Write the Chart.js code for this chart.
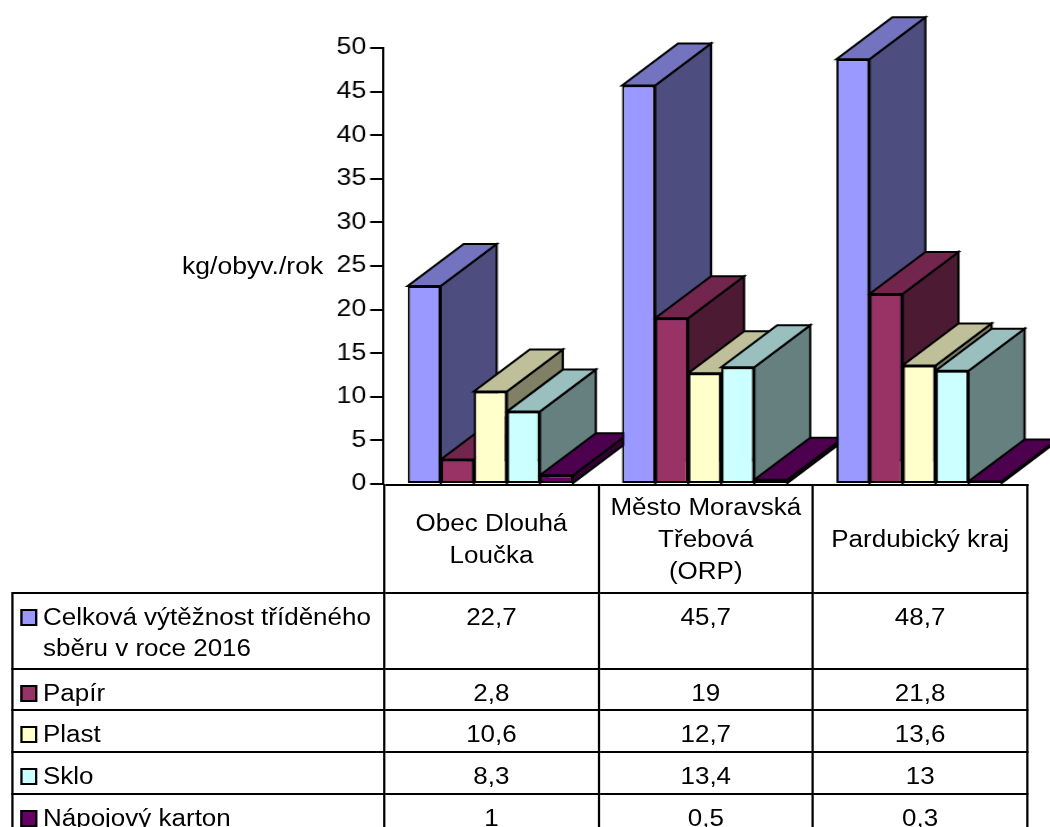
<!DOCTYPE html>
<html>
<head>
<meta charset="utf-8">
<script src="https://cdn.jsdelivr.net/npm/chart.js@4.4.1/dist/chart.umd.min.js"></script>
<style>
body { margin: 0; background: #fff; overflow: hidden; }
#wrap { position: absolute; left: 0; top: 0; width: 929px; height: 827px; overflow: visible;
  transform-origin: 0 0; transform: scaleX(1.1302);
  font-family: "Liberation Sans", Arial, sans-serif; color: #000; }
#c { position: absolute; left: 0; top: 0; width: 929px; height: 827px; }
#ytitle { position: absolute; right: 643px; top: 253px; font-size: 23.5px; line-height: 26px; white-space: nowrap; }
#tbl { position: absolute; left: 10px; top: 484px; border-collapse: collapse; table-layout: fixed; font-size: 23px; }
#tbl td { border: 2px solid #000; padding: 8px 0 0 0; text-align: center; vertical-align: top;
  line-height: 31px; white-space: nowrap; box-sizing: border-box; }
#tbl tr.head td { vertical-align: middle; padding: 0; line-height: 32px; }
#tbl td.blank { border-top: none; border-left: none; }
#tbl td.lab { position: relative; text-align: left; padding-left: 26px; }
.key { position: absolute; left: 6px; top: 15px; width: 15px; height: 17px; box-sizing: border-box; border: 2px solid #000; }
</style>
</head>
<body>
<div id="wrap">
  <canvas id="c" width="929" height="827"></canvas>
  <div id="ytitle">kg/obyv./rok</div>
  <table id="tbl"></table>
</div>
<script>
// data
var categories = [['Obec Dlouhá', 'Loučka'], ['Město Moravská', 'Třebová', '(ORP)'], ['Pardubický kraj']];
var seriesNames = [['Celková výtěžnost tříděného', 'sběru v roce 2016'], ['Papír'], ['Plast'], ['Sklo'], ['Nápojový karton']];
var celkova = [22.7, 45.7, 48.7];
var papir = [2.8, 19, 21.8];
var plast = [10.6, 12.7, 13.6];
var sklo = [8.3, 13.4, 13];
var karton = [1, 0.5, 0.3];
var yMin = 0, yMax = 50, yStep = 5;

var seriesValues = [celkova, papir, plast, sklo, karton];
var colors = ['#9999FF', '#993366', '#FFFFCC', '#CCFFFF', '#660066'];

// layout
var FONT = '"Liberation Sans", Arial, sans-serif';
var TABLE_LEFT = 10;
var rowHeights = [108, 76, 41, 42, 42, 42];
var DX = 49.5, DY = 42;   // depth of the 3d bars

function shade(hex, k) {
	var n = parseInt(hex.slice(1), 16);
	var r = Math.round(((n >> 16) & 255) * k), g = Math.round(((n >> 8) & 255) * k), b = Math.round((n & 255) * k);
	return 'rgb(' + r + ',' + g + ',' + b + ')';
}

function poly(ctx, pts, fill) {
	ctx.beginPath();
	ctx.moveTo(pts[0][0], pts[0][1]);
	for (var i = 1; i < pts.length; i++) ctx.lineTo(pts[i][0], pts[i][1]);
	ctx.closePath();
	ctx.fillStyle = fill;
	ctx.fill();
	ctx.stroke();
}

// top and side faces, left to right, before the fronts
var faces3d = {
	id: 'faces3d',
	beforeDatasetsDraw: function(chart) {
		var ctx = chart.ctx;
		ctx.save();
		ctx.lineWidth = 2;
		ctx.strokeStyle = '#000';
		ctx.lineJoin = 'miter';
		for (var j = 0; j < chart.data.labels.length; j++) {
			for (var i = 0; i < chart.data.datasets.length; i++) {
				var bar = chart.getDatasetMeta(i).data[j];
				var L = bar.x - bar.width / 2, R = bar.x + bar.width / 2, T = bar.y, B = bar.base;
				poly(ctx, [[R, T], [R + DX, T - DY], [R + DX, B - DY], [R, B]], shade(colors[i], 0.5));
				poly(ctx, [[L, T], [L + DX, T - DY], [R + DX, T - DY], [R, T]], shade(colors[i], 0.75));
			}
		}
		ctx.restore();
	}
};

var chart = new Chart(document.getElementById('c'), {
	type: 'bar',
	data: {
		labels: categories,
		datasets: seriesValues.map(function(vals, i) {
			return {
				label: seriesNames[i].join(' '),
				data: vals,
				backgroundColor: colors[i],
				borderColor: '#000',
				borderWidth: 2,
				borderSkipped: false,
				categoryPercentage: 0.771,
				barPercentage: 1
			};
		})
	},
	options: {
		responsive: false,
		animation: false,
		devicePixelRatio: 1,
		layout: { padding: { left: 0, top: 48, right: 21, bottom: 343 } },
		plugins: { legend: { display: false }, tooltip: { enabled: false } },
		scales: {
			x: { display: false },
			y: {
				min: yMin, max: yMax,
				ticks: { stepSize: yStep, color: '#000', font: { family: FONT, size: 23.5 }, padding: 3.5 },
				grid: { drawOnChartArea: false, drawTicks: true, tickLength: 11.5, color: '#000', lineWidth: 2 },
				border: { display: true, color: '#000', width: 2 },
				afterFit: function(scale) { scale.width = 339; }
			}
		}
	},
	plugins: [faces3d]
});

function fmt(v) { return String(v).replace('.', ','); }

function buildTable() {
	var xs = chart.scales.x, area = chart.chartArea;
	var catW = (xs.right - xs.left) / categories.length;
	var firstW = area.left - TABLE_LEFT;
	var html = '<colgroup><col style="width:' + firstW + 'px">';
	categories.forEach(function() { html += '<col style="width:' + catW + 'px">'; });
	html += '</colgroup>';
	html += '<tr class="head" style="height:' + rowHeights[0] + 'px"><td class="blank"></td>';
	categories.forEach(function(c) { html += '<td>' + c.join('<br>') + '</td>'; });
	html += '</tr>';
	seriesNames.forEach(function(name, i) {
		html += '<tr style="height:' + rowHeights[i + 1] + 'px"><td class="lab"><span class="key" style="background:' + colors[i] + '"></span>' + name.join('<br>') + '</td>';
		seriesValues[i].forEach(function(v) { html += '<td>' + fmt(v) + '</td>'; });
		html += '</tr>';
	});
	var tbl = document.getElementById('tbl');
	tbl.innerHTML = html;
	tbl.style.width = (xs.right - TABLE_LEFT) + 'px';
	document.getElementById('ytitle').style.top = (chart.scales.y.getPixelForValue(25) - 13) + 'px';
}
buildTable();
</script>
</body>
</html>
